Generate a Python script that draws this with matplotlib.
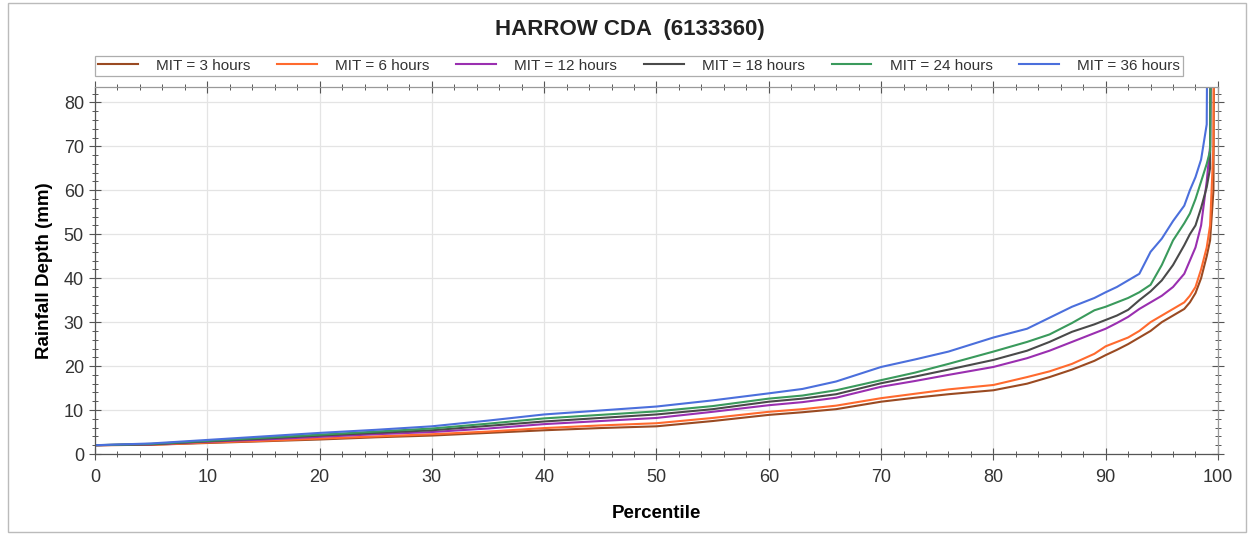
import numpy as np
import matplotlib.pyplot as plt
from matplotlib.ticker import MultipleLocator
from matplotlib.patches import Rectangle

plt.rcParams['font.family'] = ['Liberation Sans', 'DejaVu Sans']

# percentile grid shared by all series (values past the top of the axis = vertical tail)
percentile = [0, 5, 10, 15, 20, 25, 30, 35, 40, 45, 50, 55, 60, 63, 66, 70, 73, 76,
              80, 83, 85, 87, 89, 90, 91, 92, 93, 94, 95, 96, 97, 97.5, 98, 98.5,
              99, 99.3, 99.6, 99.8, 100]

mit_3h = [2.0, 2.1, 2.5, 2.9, 3.3, 3.8, 4.2, 4.8, 5.4, 5.9, 6.3, 7.5, 8.9, 9.5, 10.2,
          11.9, 12.8, 13.6, 14.5, 16.0, 17.5, 19.2, 21.2, 22.5, 23.7, 25.0, 26.5, 28.0,
          30.0, 31.5, 33.0, 34.5, 36.6, 40.0, 45.0, 48.6, 60.0, 200, 200]
mit_6h = [2.0, 2.1, 2.6, 3.0, 3.5, 4.0, 4.5, 5.1, 5.9, 6.5, 7.0, 8.2, 9.6, 10.2, 11.0,
          12.7, 13.7, 14.7, 15.7, 17.5, 18.8, 20.5, 22.8, 24.5, 25.5, 26.5, 28.0, 30.0,
          31.5, 33.0, 34.5, 36.0, 38.0, 42.0, 47.0, 52.0, 70.0, 200, 200]
mit_12h = [2.0, 2.2, 2.8, 3.3, 3.9, 4.5, 5.0, 5.8, 6.8, 7.5, 8.2, 9.6, 11.1, 11.8, 12.8,
           15.3, 16.6, 18.0, 19.8, 21.8, 23.5, 25.5, 27.5, 28.5, 29.8, 31.2, 33.0, 34.5,
           36.0, 38.0, 41.0, 44.0, 47.0, 52.0, 62.0, 70.0, 200, 200, 200]
mit_18h = [2.0, 2.2, 2.9, 3.5, 4.2, 4.8, 5.4, 6.4, 7.4, 8.2, 9.0, 10.2, 11.9, 12.6, 13.6,
           16.1, 17.6, 19.2, 21.4, 23.5, 25.5, 27.8, 29.5, 30.5, 31.5, 32.8, 35.0, 37.0,
           39.5, 43.0, 47.5, 50.0, 52.0, 56.0, 60.7, 65.0, 200, 200, 200]
mit_24h = [2.0, 2.3, 3.0, 3.7, 4.4, 5.1, 5.8, 6.9, 8.1, 8.9, 9.7, 10.9, 12.6, 13.3, 14.5,
           16.8, 18.5, 20.5, 23.3, 25.5, 27.2, 29.8, 32.7, 33.5, 34.5, 35.5, 36.8, 38.5,
           43.0, 48.6, 52.5, 54.7, 58.0, 62.0, 66.0, 69.0, 200, 200, 200]
mit_36h = [2.0, 2.4, 3.2, 4.0, 4.8, 5.5, 6.3, 7.6, 9.0, 9.9, 10.8, 12.2, 13.8, 14.8, 16.5,
           19.8, 21.5, 23.3, 26.5, 28.5, 31.0, 33.5, 35.5, 36.8, 38.0, 39.5, 41.0, 46.0,
           49.0, 53.0, 56.5, 60.0, 63.0, 67.0, 75.0, 200, 200, 200, 200]

labels = ['MIT = 3 hours', 'MIT = 6 hours', 'MIT = 12 hours',
          'MIT = 18 hours', 'MIT = 24 hours', 'MIT = 36 hours']
colors = ['#9a4a22', '#ff6a2e', '#9a2fb0', '#4a4a4a', '#3a9a5c', '#4b6fdc']
series = [mit_3h, mit_6h, mit_12h, mit_18h, mit_24h, mit_36h]

fig = plt.figure(figsize=(12.52, 5.35), dpi=100)
ax = fig.add_axes([0.0759, 0.1514, 0.8969, 0.686])

for vals, lab, col in zip(series, labels, colors):
    ax.plot(percentile, vals, color=col, lw=1.5, label=lab)

ax.set_xlim(0, 100)
ax.set_ylim(0, 83.5)
ax.xaxis.set_major_locator(MultipleLocator(10))
ax.xaxis.set_minor_locator(MultipleLocator(2))
ax.yaxis.set_major_locator(MultipleLocator(10))
ax.yaxis.set_minor_locator(MultipleLocator(2))
ax.grid(True, which='major', color='#e4e4e4', lw=0.9)
ax.set_axisbelow(True)

ax.tick_params(which='major', direction='inout', length=9, width=0.8, color='#555555',
               labelsize=13, labelcolor='#333333', top=True, right=True)
ax.tick_params(which='minor', direction='inout', length=5, width=0.7, color='#555555',
               top=True, right=True)
ax.tick_params(which='both', axis='x', pad=6)
for s in ax.spines.values():
    s.set_color('#999999')
    s.set_linewidth(0.9)
ax.spines['bottom'].set_color('#555555')
ax.spines['left'].set_color('#555555')

ax.set_xlabel('Percentile', fontsize=13.5, fontweight='bold', labelpad=14)
ax.set_ylabel('Rainfall Depth (mm)', fontsize=13.5, fontweight='bold', labelpad=8)

fig.text(0.503, 0.944, 'HARROW CDA  (6133360)', ha='center', va='center',
         fontsize=16, fontweight='bold', color='#222222')

leg = fig.legend(loc='center', bbox_to_anchor=(0.5105, 0.877), ncol=6, fontsize=11,
                 frameon=True, fancybox=False, handlelength=2.6, columnspacing=1.75,
                 borderpad=0.2, handletextpad=1.2)
leg.get_frame().set_edgecolor('#999999')
leg.get_frame().set_linewidth(0.9)
for t in leg.get_texts():
    t.set_color('#333333')

# thin frame around the whole figure
fig.patches.append(Rectangle((8 / 1252, 0.006), 1238 / 1252, 0.988,
                             transform=fig.transFigure, fill=False,
                             edgecolor='#bbbbbb', lw=1.0))

fig.savefig('out.png', dpi=100)
